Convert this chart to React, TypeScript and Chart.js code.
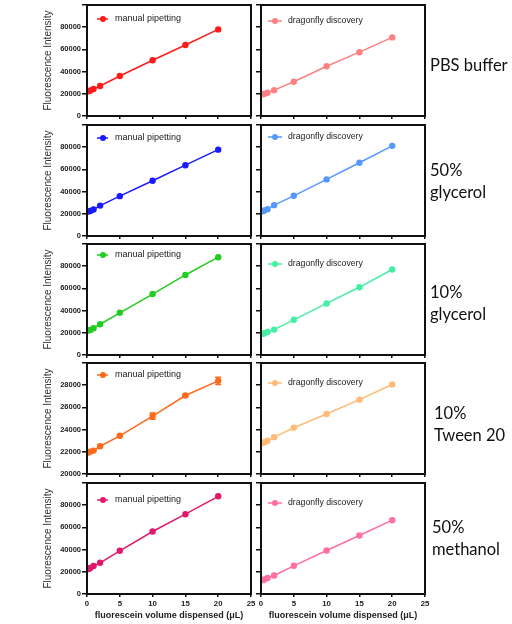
import React, { useEffect, useRef } from 'react';
import { Chart, registerables } from 'chart.js';

Chart.register(...registerables);

// ---------------- data ----------------
const xValues = [0.25, 0.5, 1, 2, 5, 10, 15, 20];

const pbsManual = [22300, 23000, 24300, 27000, 36000, 50200, 64000, 78000];
const pbsDragonfly = [19500, 20000, 20900, 23300, 30900, 44800, 57500, 70800];
const gly50Manual = [22000, 22600, 23900, 27400, 35900, 49800, 63800, 77800];
const gly50Dragonfly = [22300, 23000, 24200, 27800, 36200, 51000, 66000, 81200];
const gly10Manual = [22000, 22600, 24100, 27700, 38000, 54900, 72100, 88100];
const gly10Dragonfly = [19000, 19600, 20800, 22900, 31700, 46500, 61000, 77000];
const tweenManual = [21930, 22020, 22110, 22500, 23440, 25220, 27070, 28390];
const tweenManualErr = [0, 0, 40, 60, 60, 280, 60, 330];
const tweenDragonfly = [22800, 22870, 22990, 23320, 24170, 25400, 26700, 28060];
const meohManual = [22500, 23400, 25200, 28100, 38900, 56300, 71900, 88000];
const meohDragonfly = [12500, 13100, 14400, 16700, 25400, 39200, 52700, 66500];

const seriesNames = ['manual pipetting', 'dragonfly discovery'];
const rowLabels = [
  ['PBS buffer'],
  ['50%', 'glycerol'],
  ['10%', 'glycerol'],
  ['10%', 'Tween 20'],
  ['50%', 'methanol'],
];
const yMins = [0, 0, 0, 20000, 0];
const yMaxs = [100000, 100000, 100000, 30000, 100000];
const ySteps = [20000, 20000, 20000, 2000, 20000];
const xMin = 0;
const xMax = 25;
const xStep = 5;
const xTitle = 'fluorescein volume dispensed (\u03BCL)';
const yTitle = 'Fluorescence Intensity';

const manualSeries = [pbsManual, gly50Manual, gly10Manual, tweenManual, meohManual];
const dragonflySeries = [pbsDragonfly, gly50Dragonfly, gly10Dragonfly, tweenDragonfly, meohDragonfly];
const manualErrors = [null, null, null, tweenManualErr, null];

// ---------------- styles / layout ----------------
const manualColors = ['#ff1a1a', '#1a1aff', '#22cc22', '#ff6a1a', '#e0186a'];
const dragonflyColors = ['#ff8080', '#5599ff', '#44eea4', '#ffbb77', '#ff6fa0'];

const ROW_TOPS = [5, 125, 244, 363, 483];
const AREA_H = 111;
const LEFT_AREA = [87, 251];
const RIGHT_AREA = [261, 425];
const LEGEND_DY = [
  [14, 16],
  [13, 12],
  [11, 20],
  [12, 20],
  [17, 20],
];
const LABEL_POS = [
  { left: 430, top: 54 },
  { left: 430, top: 159 },
  { left: 430, top: 281 },
  { left: 434, top: 402 },
  { left: 432, top: 516 },
];
const FONT = "'Liberation Sans', Arial, Helvetica, sans-serif";

const framePlugin = {
  id: 'frame',
  afterDatasetsDraw(chart: any) {
    const { ctx, chartArea: a } = chart;
    ctx.save();
    ctx.strokeStyle = '#111';
    ctx.lineWidth = 2;
    ctx.strokeRect(a.left, a.top, a.right - a.left, a.bottom - a.top);
    ctx.restore();
  },
};

const errorBarPlugin = {
  id: 'errbars',
  afterDatasetsDraw(chart: any) {
    const { ctx } = chart;
    const ys = chart.scales.y;
    const xs = chart.scales.x;
    chart.data.datasets.forEach((ds: any) => {
      if (!ds.errors) return;
      ctx.save();
      ctx.strokeStyle = ds.borderColor;
      ctx.lineWidth = 1.5;
      ds.data.forEach((p: any, i: number) => {
        const e = ds.errors[i];
        if (!e) return;
        const px = xs.getPixelForValue(p.x);
        const y1 = ys.getPixelForValue(p.y + e);
        const y2 = ys.getPixelForValue(p.y - e);
        ctx.beginPath();
        ctx.moveTo(px, y1);
        ctx.lineTo(px, y2);
        ctx.moveTo(px - 3, y1);
        ctx.lineTo(px + 3, y1);
        ctx.moveTo(px - 3, y2);
        ctx.lineTo(px + 3, y2);
        ctx.stroke();
      });
      ctx.restore();
    });
  },
};

const innerLegendPlugin = {
  id: 'innerLegend',
  afterDraw(chart: any, _args: any, opts: any) {
    const { ctx, chartArea: a } = chart;
    const ds = chart.data.datasets[0];
    const y = a.top + opts.dy;
    ctx.save();
    ctx.strokeStyle = ds.borderColor;
    ctx.fillStyle = ds.borderColor;
    ctx.lineWidth = 1.5;
    ctx.beginPath();
    ctx.moveTo(a.left + opts.x0, y);
    ctx.lineTo(a.left + opts.x1, y);
    ctx.stroke();
    ctx.beginPath();
    ctx.arc(a.left + opts.xc, y, 3, 0, Math.PI * 2);
    ctx.fill();
    ctx.fillStyle = '#222';
    ctx.font = `${opts.size}px ${FONT}`;
    ctx.textBaseline = 'middle';
    ctx.textAlign = 'left';
    ctx.fillText(ds.label, a.left + opts.tx, y);
    ctx.restore();
  },
};

function Panel({ row, side }: { row: number; side: number }) {
  const ref = useRef<HTMLCanvasElement>(null);
  const isLeft = side === 0;
  const isBottom = row === rowLabels.length - 1;
  const canvasLeft = isLeft ? 30 : 250;
  const area = isLeft ? LEFT_AREA : RIGHT_AREA;
  const padTop = 8;
  const padRight = 12;
  const xH = isBottom ? 27 : 6;
  const W = area[1] - canvasLeft + padRight;
  const H = padTop + AREA_H + xH;
  const top = ROW_TOPS[row] - padTop;

  useEffect(() => {
    const values = isLeft ? manualSeries[row] : dragonflySeries[row];
    const color = isLeft ? manualColors[row] : dragonflyColors[row];
    const errs = isLeft ? manualErrors[row] : null;
    const yMax = yMaxs[row];
    const chart = new Chart(ref.current as HTMLCanvasElement, {
      type: 'line',
      data: {
        datasets: [
          {
            label: seriesNames[side],
            data: xValues.map((x, i) => ({ x, y: values[i] })),
            borderColor: color,
            backgroundColor: color,
            pointBackgroundColor: color,
            borderWidth: 1.5,
            pointRadius: 3.2,
            pointHoverRadius: 3.2,
            pointBorderWidth: 0,
            tension: 0,
            errors: errs,
          } as any,
        ],
      },
      options: {
        responsive: false,
        animation: false,
        events: [],
        layout: { padding: { top: padTop, right: padRight, left: 0, bottom: 0 } },
        plugins: {
          legend: { display: false },
          tooltip: { enabled: false },
          innerLegend: isLeft
            ? { dy: LEGEND_DY[row][0], x0: 10, x1: 21, xc: 16, tx: 28, size: 9 }
            : { dy: LEGEND_DY[row][1], x0: 7, x1: 21, xc: 14, tx: 27, size: 8.7 },
        } as any,
        scales: {
          x: {
            type: 'linear',
            position: 'bottom',
            min: xMin,
            max: xMax,
            afterFit: (s: any) => {
              s.height = xH;
            },
            ticks: {
              display: isBottom,
              stepSize: xStep,
              padding: 2,
              maxRotation: 0,
              autoSkip: false,
              color: '#222',
              font: { family: FONT, size: 7.8, weight: 'bold' },
            },
            grid: {
              display: true,
              drawOnChartArea: false,
              drawTicks: true,
              tickLength: 3,
              color: '#111',
              lineWidth: 1.5,
            },
            border: { display: false },
            title: {
              display: isBottom,
              text: xTitle,
              color: '#222',
              font: { family: FONT, size: 9, weight: 'bold' },
              padding: { top: 0, bottom: 0 },
            },
          },
          y: {
            type: 'linear',
            position: 'left',
            min: yMins[row],
            max: yMax,
            afterFit: (s: any) => {
              s.width = area[0] - canvasLeft;
            },
            ticks: {
              display: isLeft,
              stepSize: ySteps[row],
              padding: 1,
              color: '#222',
              font: { family: FONT, size: 7.5, weight: 'bold' },
              callback: (v: any) => (v === yMax ? '' : String(v)),
            },
            grid: {
              display: true,
              drawOnChartArea: false,
              drawTicks: true,
              tickLength: 5,
              color: '#111',
              lineWidth: 1.5,
            },
            border: { display: false },
            title: {
              display: isLeft,
              text: yTitle,
              color: '#333',
              font: { family: FONT, size: 10 },
              padding: { top: 12, bottom: 0 },
            },
          },
        },
      },
      plugins: [framePlugin, errorBarPlugin, innerLegendPlugin],
    } as any);
    return () => chart.destroy();
  }, []);

  return (
    <canvas
      ref={ref}
      width={W}
      height={H}
      style={{ position: 'absolute', left: canvasLeft, top, width: W, height: H }}
    />
  );
}

export default function App() {
  return (
    <div
      style={{
        position: 'fixed',
        left: 0,
        top: 0,
        width: 512,
        height: 624,
        background: '#fff',
        overflow: 'hidden',
      }}
    >
      {rowLabels.map((_, r) => (
        <React.Fragment key={r}>
          <Panel row={r} side={0} />
          <Panel row={r} side={1} />
        </React.Fragment>
      ))}
      {rowLabels.map((lines, r) => (
        <div
          key={'lab' + r}
          style={{
            position: 'absolute',
            left: LABEL_POS[r].left,
            top: LABEL_POS[r].top,
            fontFamily: "Lato, 'Open Sans', sans-serif",
            fontSize: 16.5,
            lineHeight: '22px',
            color: '#111',
            whiteSpace: 'nowrap',
          }}
        >
          {lines.map((l, i) => (
            <div key={i}>{l}</div>
          ))}
        </div>
      ))}
    </div>
  );
}
